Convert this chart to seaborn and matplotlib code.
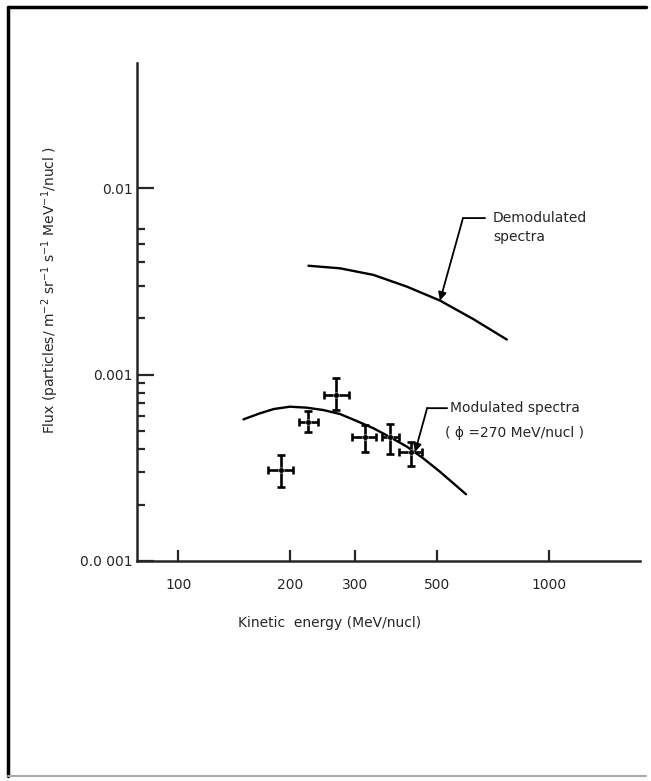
import numpy as np
import pandas as pd
import matplotlib
matplotlib.use("Agg")
import matplotlib.pyplot as plt
import seaborn as sns

# measured points (MeV/nucl, flux) with asymmetric error bounds
energy = [189.5, 224.1, 266.6, 319.2, 372.8, 424.6]
energy_lo = [174.8, 211.9, 247.5, 294.4, 354.8, 394.2]
energy_hi = [204.2, 238.4, 289.0, 341.8, 394.2, 454.7]
flux = [3.08e-4, 5.56e-4, 7.76e-4, 4.62e-4, 4.62e-4, 3.84e-4]
flux_lo = [2.49e-4, 4.91e-4, 6.45e-4, 3.84e-4, 3.75e-4, 3.23e-4]
flux_hi = [3.70e-4, 6.37e-4, 9.58e-4, 5.36e-4, 5.43e-4, 4.35e-4]

# modulated spectrum (phi = 270 MeV/nucl)
mod_energy = [150, 166, 181, 200, 222, 246, 273, 303, 336, 373, 414, 458, 508, 552, 597]
mod_flux = [5.75e-4, 6.19e-4, 6.53e-4, 6.72e-4, 6.64e-4, 6.45e-4, 6.14e-4, 5.63e-4,
            5.15e-4, 4.61e-4, 4.10e-4, 3.55e-4, 3.01e-4, 2.61e-4, 2.28e-4]

# demodulated spectrum
demod_energy = [224.5, 273.3, 336.1, 413.5, 508.3, 625.2, 769.1]
demod_flux = [3.83e-3, 3.71e-3, 3.42e-3, 2.96e-3, 2.49e-3, 1.98e-3, 1.54e-3]

x_ticks = [100, 200, 300, 500, 1000]
x_ticklabels = ["100", "200", "300", "500", "1000"]
y_ticks = [1e-4, 1e-3, 1e-2]
y_ticklabels = ["0.0 001", "0.001", "0.01"]
y_minor = [2e-4, 3e-4, 4e-4, 5e-4, 6e-4, 7e-4, 8e-4, 9e-4,
           2e-3, 3e-3, 4e-3, 5e-3, 6e-3]

sns.set_style("ticks")
plt.rcParams['font.family'] = ['DejaVu Sans']

fig = plt.figure(figsize=(6.51, 7.81), dpi=100)
ax = fig.add_axes([0.2104, 0.2817, 0.7726, 0.6376])

mod_df = pd.DataFrame({"E": mod_energy, "F": mod_flux})
demod_df = pd.DataFrame({"E": demod_energy, "F": demod_flux})
sns.lineplot(data=mod_df, x="E", y="F", sort=False, estimator=None, color="black", lw=1.7, ax=ax)
sns.lineplot(data=demod_df, x="E", y="F", sort=False, estimator=None, color="black", lw=1.7, ax=ax)

e = np.array(energy)
f = np.array(flux)
xerr = [e - np.array(energy_lo), np.array(energy_hi) - e]
yerr = [f - np.array(flux_lo), np.array(flux_hi) - f]
ax.errorbar(e, f, xerr=xerr, yerr=yerr, fmt="none", ecolor="black",
            elinewidth=1.9, capsize=3, capthick=1.9)
sns.scatterplot(x=energy, y=flux, color="black", s=16, ax=ax, zorder=5)

ax.set_xscale("log")
ax.set_yscale("log")
ax.set_xlim(77.4, 1758)
ax.set_ylim(1e-4, 0.0468)

ax.set_xticks(x_ticks)
ax.set_xticklabels(x_ticklabels)
ax.xaxis.set_minor_locator(matplotlib.ticker.NullLocator())
ax.set_yticks(y_ticks)
ax.set_yticklabels(y_ticklabels)
ax.set_yticks(y_minor, minor=True)
ax.yaxis.set_minor_formatter(matplotlib.ticker.NullFormatter())

ax.tick_params(axis="x", which="major", direction="in", length=8, width=1.6, labelsize=10, pad=12)
ax.tick_params(axis="y", which="major", direction="in", length=12, width=1.6, labelsize=10, pad=3)
ax.tick_params(axis="y", which="minor", direction="in", length=6, width=1.6)

sns.despine(ax=ax)
for s in ["left", "bottom"]:
    ax.spines[s].set_linewidth(1.8)

ax.set_xlabel("")
ax.set_ylabel("")
fig.text(330 / 651, 1 - 623 / 781, "Kinetic  energy (MeV/nucl)", ha="center", va="center", fontsize=10)
fig.text(50 / 651, 1 - 290 / 781,
         r"Flux (particles/ m$^{-2}$ sr$^{-1}$ s$^{-1}$ MeV$^{-1}$/nucl )",
         rotation=90, ha="center", va="center", fontsize=10)

# annotations
ax.annotate("", xy=(508, 2.49e-3), xytext=(586, 6.9e-3),
            arrowprops=dict(arrowstyle="-|>", color="black", lw=1.3, mutation_scale=12, shrinkA=0, shrinkB=0))
ax.annotate("", xy=(586, 6.9e-3), xytext=(672, 6.9e-3),
            arrowprops=dict(arrowstyle="-", color="black", lw=1.3, shrinkA=0, shrinkB=0))
ax.text(706, 6.9e-3, "Demodulated", ha="left", va="center", fontsize=10)
ax.text(706, 5.46e-3, "spectra", ha="left", va="center", fontsize=10)

ax.annotate("", xy=(435, 3.84e-4), xytext=(469, 6.6e-4),
            arrowprops=dict(arrowstyle="-|>", color="black", lw=1.3, mutation_scale=12, shrinkA=0, shrinkB=0))
ax.annotate("", xy=(469, 6.6e-4), xytext=(531, 6.6e-4),
            arrowprops=dict(arrowstyle="-", color="black", lw=1.3, shrinkA=0, shrinkB=0))
ax.text(541, 6.6e-4, "Modulated spectra", ha="left", va="center", fontsize=10)
ax.text(524, 4.86e-4, "( \u03d5 =270 MeV/nucl )", ha="left", va="center", fontsize=10)

# page frame
fig.add_artist(plt.Line2D([8 / 651, 8 / 651], [1 - 776 / 781, 1 - 7 / 781], color="black", lw=2.5))
fig.add_artist(plt.Line2D([8 / 651, 646 / 651], [1 - 7 / 781, 1 - 7 / 781], color="black", lw=2.5))
fig.add_artist(plt.Line2D([8 / 651, 646 / 651], [1 - 776 / 781, 1 - 776 / 781], color="#aaaaaa", lw=1.5))

fig.savefig("out.png", dpi=100)
